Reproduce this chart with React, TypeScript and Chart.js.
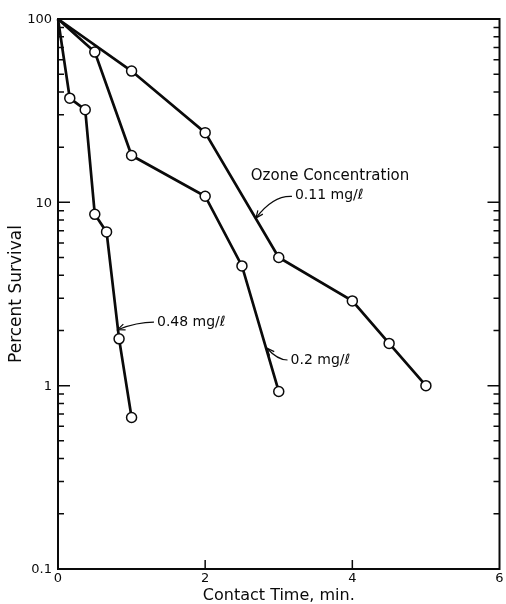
import React, { useEffect, useRef } from "react";
import { Chart, registerables } from "chart.js";

Chart.register(...registerables);

// ---- data ----
const conc048X = [0, 0.16, 0.37, 0.5, 0.66, 0.83, 1.0];
const conc048Y = [100, 37, 32, 8.6, 6.9, 1.8, 0.67];
const conc02X = [0, 0.5, 1, 2, 2.5, 3];
const conc02Y = [100, 66, 18, 10.8, 4.5, 0.93];
const conc011X = [0, 1, 2, 3, 4, 4.5, 5];
const conc011Y = [100, 52, 24, 5, 2.9, 1.7, 1.0];

const seriesLabels = ["0.48 mg/ℓ", "0.2 mg/ℓ", "0.11 mg/ℓ"];
const xTickValues = [0, 2, 4, 6];
const xTickLabels = ["0", "2", "4", "6"];
const yTickValues = [0.1, 1, 10, 100];
const yTickLabels = ["0.1", "1", "10", "100"];
const headerText = "Ozone Concentration";
const xTitle = "Contact Time, min.";
const yTitle = "Percent Survival";

const INK = "#0a0a0a";
const FONT = "'DejaVu Sans', sans-serif";

function toPoints(xs: number[], ys: number[]) {
  return xs.map((x, i) => ({ x, y: ys[i] }));
}

function drawArrow(
  ctx: CanvasRenderingContext2D,
  sx: number, sy: number, cx: number, cy: number, ex: number, ey: number
) {
  ctx.beginPath();
  ctx.moveTo(sx, sy);
  ctx.quadraticCurveTo(cx, cy, ex, ey);
  ctx.stroke();
  const ang = Math.atan2(ey - cy, ex - cx);
  const L = 8;
  const spread = 0.4;
  ctx.beginPath();
  ctx.moveTo(ex - L * Math.cos(ang - spread), ey - L * Math.sin(ang - spread));
  ctx.lineTo(ex, ey);
  ctx.lineTo(ex - L * Math.cos(ang + spread), ey - L * Math.sin(ang + spread));
  ctx.stroke();
}

const framePlugin = {
  id: "frameTicks",
  beforeDatasetsDraw(chart: any) {
    const { ctx, chartArea: a, scales } = chart;
    const x = scales.x;
    const y = scales.y;
    ctx.save();
    ctx.strokeStyle = INK;
    ctx.lineWidth = 2;
    ctx.strokeRect(a.left, a.top, a.right - a.left, a.bottom - a.top);
    ctx.lineWidth = 1.5;
    ctx.beginPath();
    for (const d of [0.1, 1, 10]) {
      for (let m = 1; m <= 9; m++) {
        const v = d * m;
        if (m === 1 && d === 0.1) continue;
        const py = y.getPixelForValue(v);
        const len = m === 1 ? 12 : 6;
        ctx.moveTo(a.left, py);
        ctx.lineTo(a.left + len, py);
        ctx.moveTo(a.right, py);
        ctx.lineTo(a.right - len, py);
      }
    }
    for (const v of xTickValues) {
      if (v === x.min || v === x.max) continue;
      const px = x.getPixelForValue(v);
      ctx.moveTo(px, a.bottom);
      ctx.lineTo(px, a.bottom - 9);
    }
    ctx.stroke();
    ctx.restore();
  },
  afterDraw(chart: any) {
    const { ctx, chartArea: a, scales } = chart;
    const x = scales.x;
    const y = scales.y;
    ctx.save();
    ctx.fillStyle = INK;
    ctx.strokeStyle = INK;

    // tick labels
    ctx.font = `13px ${FONT}`;
    ctx.textAlign = "right";
    ctx.textBaseline = "middle";
    yTickValues.forEach((v, i) => {
      ctx.fillText(yTickLabels[i], a.left - 6, y.getPixelForValue(v) + 1);
    });
    ctx.textAlign = "center";
    ctx.textBaseline = "top";
    xTickValues.forEach((v, i) => {
      ctx.fillText(xTickLabels[i], x.getPixelForValue(v), a.bottom + 3);
    });

    // axis titles
    ctx.font = `16px ${FONT}`;
    ctx.textBaseline = "middle";
    ctx.fillText(xTitle, (a.left + a.right) / 2, a.bottom + 27);
    ctx.save();
    ctx.font = `17px ${FONT}`;
    ctx.translate(17, (a.top + a.bottom) / 2);
    ctx.rotate(-Math.PI / 2);
    ctx.fillText(yTitle, 0, 0);
    ctx.restore();

    // annotations
    ctx.font = `15px ${FONT}`;
    ctx.textAlign = "left";
    ctx.textBaseline = "middle";
    ctx.fillText(headerText, x.getPixelForValue(2.62), y.getPixelForValue(13.9));

    ctx.font = `14px ${FONT}`;
    ctx.lineWidth = 1.2;
    // 0.11
    {
      const lx = x.getPixelForValue(3.22), ly = y.getPixelForValue(10.9);
      ctx.fillText(seriesLabels[2], lx, ly);
      const tx = x.getPixelForValue(2.69), ty = y.getPixelForValue(8.2);
      drawArrow(ctx, lx - 3, ly + 1, lx - 22, ly, tx, ty);
    }
    // 0.48
    {
      const lx = x.getPixelForValue(1.345), ly = y.getPixelForValue(2.22);
      ctx.fillText(seriesLabels[0], lx, ly);
      const tx = x.getPixelForValue(0.81), ty = y.getPixelForValue(2.02);
      drawArrow(ctx, lx - 3, ly, lx - 20, ly, tx, ty);
    }
    // 0.2
    {
      const lx = x.getPixelForValue(3.16), ly = y.getPixelForValue(1.38);
      ctx.fillText(seriesLabels[1], lx, ly);
      const tx = x.getPixelForValue(2.84), ty = y.getPixelForValue(1.6);
      drawArrow(ctx, lx - 3, ly, lx - 13, ly, tx, ty);
    }
    ctx.restore();
  },
};

function makeDataset(label: string, xs: number[], ys: number[]) {
  return {
    label,
    data: toPoints(xs, ys),
    borderColor: INK,
    borderWidth: 2.7,
    backgroundColor: "#ffffff",
    pointRadius: xs.map((_, i) => (i === 0 ? 0 : 5)),
    pointBackgroundColor: "#ffffff",
    pointBorderColor: INK,
    pointBorderWidth: 1.5,
    tension: 0,
    clip: false as any,
    fill: false,
  };
}

export default function App() {
  const ref = useRef<HTMLCanvasElement | null>(null);
  useEffect(() => {
    document.body.style.margin = "0";
    if (!ref.current) return;
    const chart = new Chart(ref.current, {
      type: "line",
      data: {
        datasets: [
          makeDataset(seriesLabels[0], conc048X, conc048Y),
          makeDataset(seriesLabels[1], conc02X, conc02Y),
          makeDataset(seriesLabels[2], conc011X, conc011Y),
        ],
      },
      options: {
        responsive: false,
        animation: false,
        devicePixelRatio: 1,
        layout: { padding: { left: 58, top: 19, right: 2, bottom: 35 } },
        scales: {
          x: { type: "linear", min: 0, max: 6, display: false },
          y: { type: "logarithmic", min: 0.1, max: 100, display: false },
        },
        plugins: { legend: { display: false }, tooltip: { enabled: false } },
      },
      plugins: [framePlugin],
    } as any);
    return () => chart.destroy();
  }, []);
  return (
    <div style={{ position: "absolute", left: 0, top: 0, width: 506, height: 604, background: "#fff" }}>
      <canvas ref={ref} width={506} height={604} style={{ display: "block", width: 506, height: 604 }} />
    </div>
  );
}
